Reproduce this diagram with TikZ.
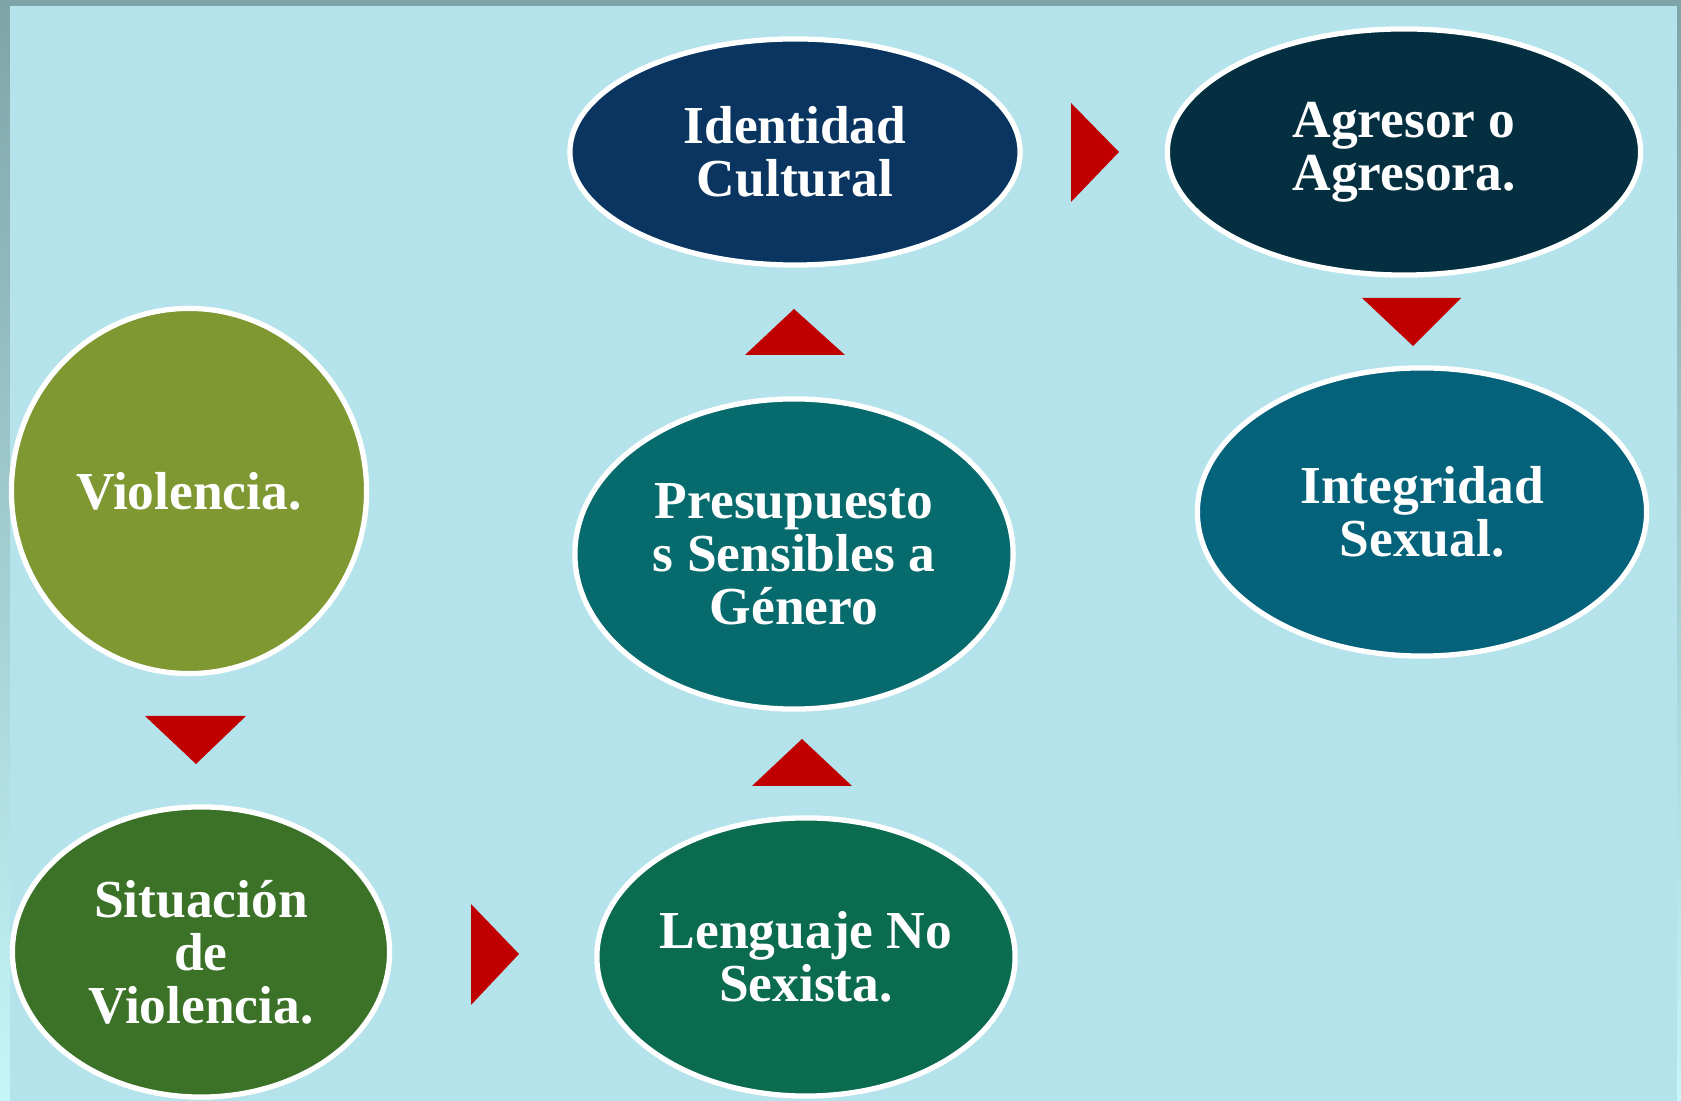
\documentclass[tikz,border=0pt]{standalone}
\usepackage{fontspec}
\setmainfont{Liberation Serif}
\usetikzlibrary{shapes.geometric}
\definecolor{marco}{HTML}{7FA4A8}
\definecolor{marcoclaro}{HTML}{C4F6FA}
\definecolor{fondo}{HTML}{B4E3EB}
\definecolor{rojo}{HTML}{C00000}
\definecolor{oliva}{HTML}{7F9832}
\definecolor{verde}{HTML}{3B7228}
\definecolor{verdeazul}{HTML}{0B6B4F}
\definecolor{petroleo}{HTML}{076A6C}
\definecolor{marino}{HTML}{0A3560}
\definecolor{noche}{HTML}{042F40}
\definecolor{oceano}{HTML}{05627B}
\tikzset{
  burbuja/.style={ellipse, draw=white, line width=1.5pt, text=white, align=center,
    inner sep=0pt, font=\bfseries\fontsize{15.2}{15.1}\selectfont},
  flecha/.style={fill=rojo}
}

\begin{document}
\begin{tikzpicture}[x=0.01cm,y=-0.01cm]
    \useasboundingbox (0,0) rectangle (1681,1101);
    \shade[top color=marco, bottom color=marcoclaro] (0,0) rectangle (1681,1101);
    \fill[fondo] (10,6) rectangle (1677,1101);

    \node[burbuja, fill=oliva, minimum width=3.55cm, minimum height=3.65cm] (violencia) at (189,491) {Violencia.};
    \node[burbuja, fill=verde, minimum width=3.77cm, minimum height=2.90cm] (situacion) at (201,952) {Situación\\de\\Violencia.};
    \node[burbuja, fill=verdeazul, minimum width=4.18cm, minimum height=2.78cm] (lenguaje) at (806,957) {Lenguaje No\\Sexista.};
    \node[burbuja, fill=petroleo, minimum width=4.38cm, minimum height=3.10cm] (presupuestos) at (794,554) {Presupuesto\\s Sensibles a\\Género};
    \node[burbuja, fill=marino, minimum width=4.50cm, minimum height=2.26cm] (identidad) at (795,152) {Identidad\\Cultural};
    \node[burbuja, fill=noche, minimum width=4.73cm, minimum height=2.46cm] (agresor) at (1404,152) {Agresor o\\Agresora.};
    \node[burbuja, fill=oceano, minimum width=4.49cm, minimum height=2.88cm] (integridad) at (1422,512) {Integridad\\Sexual.};

    \fill[flecha] (145,716) -- (246,716) -- (196,764) -- cycle;
    \fill[flecha] (471,904) -- (519,954) -- (471,1005) -- cycle;
    \fill[flecha] (752,786) -- (852,786) -- (802,739) -- cycle;
    \fill[flecha] (745,355) -- (845,355) -- (794,309) -- cycle;
    \fill[flecha] (1071,103) -- (1119,152) -- (1071,202) -- cycle;
    \fill[flecha] (1362,298) -- (1461,298) -- (1413,346) -- cycle;
\end{tikzpicture}
\end{document}
